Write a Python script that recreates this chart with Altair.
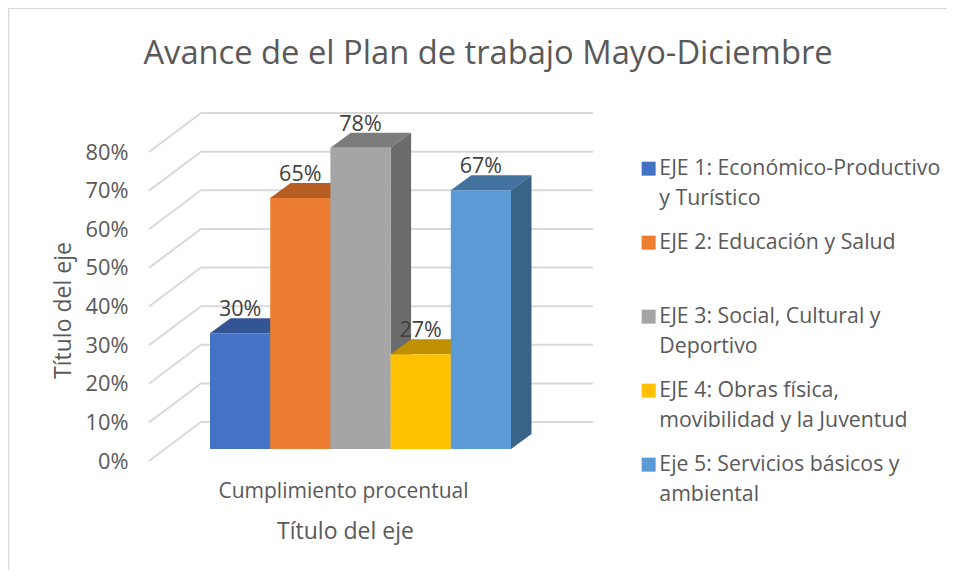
import altair as alt
import pandas as pd

TITLE = "Avance de el Plan de trabajo Mayo-Diciembre"
SERIES = ["EJE 1: Económico-Productivo|y Turístico", "EJE 2: Educación y Salud",
          "EJE 3: Social, Cultural y|Deportivo", "EJE 4: Obras física,|movibilidad y la Juventud",
          "Eje 5: Servicios básicos y|ambiental"]
HEIGHTS = [30, 65, 78, 24.5, 67]
LABELS = ["30%", "65%", "78%", "27%", "67%"]
FRONT = ["#4472c4", "#ed7d31", "#a5a5a5", "#ffc000", "#5b9bd5"]
TOP = ["#335593", "#b55d22", "#7c7c7c", "#bf9000", "#44729f"]
SIDE = ["#2a4679", "#8f4b1d", "#6b6b6b", "#997300", "#3a6487"]
TICKS = [0, 10, 20, 30, 40, 50, 60, 70, 80]

PX = 3.8625            # pixels per percentage point
W, H = 444, 348
GRID_DX, GRID_DY = 52, 39 / PX
BAR_X0, BAR_W = 61, 60.2
BAR_BASE = 12 / PX
BAR_DX, BAR_DY = 20.5, 15 / PX

xs = alt.Scale(domain=[0, W], nice=False, zero=False)
ys = alt.Scale(domain=[0, H / PX], nice=False, zero=False)
x_axis = alt.Axis(
    values=[194], labelExpr="'Cumplimiento procentual'", domain=False, ticks=False, grid=False,
    labelFontSize=21, labelColor="#595959", labelPadding=19, labelFont="Open Sans", labelLimit=500,
    labelBound=False, labelFlush=False, labelOverlap=False,
    titleFontSize=23, titleColor="#595959", titleFont="Open Sans", titleFontWeight="normal",
    titleX=196, titleY=77, titleBaseline="alphabetic")
y_axis = alt.Axis(
    values=TICKS, labelExpr="datum.value + '%'", domain=False, ticks=False, grid=False,
    labelFontSize=21.8, labelColor="#595959", labelPadding=21, labelFont="Open Sans",
    titleFontSize=23, titleColor="#595959", titleFont="Open Sans", titleFontWeight="normal",
    titleX=-74, titleY=197)
X = lambda f="x": alt.X(f"{f}:Q", scale=xs, axis=x_axis, title="Título del eje")
Y = lambda f="y": alt.Y(f"{f}:Q", scale=ys, axis=y_axis, title="Título del eje")

# outer frame
frame = [
    alt.Chart(pd.DataFrame({"a": [0]})).mark_rule(color="#d9d9d9", strokeWidth=1.5).encode(
        x=alt.value(-140.5), y=alt.value(-105), y2=alt.value(H + 109)),
    alt.Chart(pd.DataFrame({"a": [0]})).mark_rule(color="#d9d9d9", strokeWidth=1).encode(
        y=alt.value(-104.5), x=alt.value(-141), x2=alt.value(W + 354)),
]

# walls: diagonal + horizontal gridlines
grid_rows = []
for t in TICKS:
    grid_rows += [{"t": t, "o": 0, "x": 0, "y": t},
                  {"t": t, "o": 1, "x": GRID_DX, "y": t + GRID_DY},
                  {"t": t, "o": 2, "x": W, "y": t + GRID_DY}]
grid = alt.Chart(pd.DataFrame(grid_rows)).mark_line(color="#d9d9d9", strokeWidth=2).encode(
    x=X(), y=Y(), detail="t:N", order="o:Q")

layers = frame + [grid]
color_scale = alt.Scale(domain=SERIES, range=FRONT)
legend = alt.Legend(
    title=None, orient="none", legendX=489, legendY=45, symbolType="square", symbolSize=196,
    symbolStrokeWidth=0, labelFontSize=21.3, labelColor="#595959", labelFont="Open Sans", labelLimit=400,
    labelOffset=0, rowPadding=22, padding=0,
    labelExpr="[split(datum.label,'|')[0], split(datum.label,'|')[1] || '']",
)

for i, s in enumerate(SERIES):
    x0 = BAR_X0 + i * BAR_W
    x1 = x0 + BAR_W
    y0 = BAR_BASE
    y1 = BAR_BASE + HEIGHTS[i]
    top = pd.DataFrame({
        "x": [x0, x0 + BAR_DX, x1, x1 + BAR_DX],
        "y": [y1, y1, y1, y1 + BAR_DY],
        "y2": [y1, y1 + BAR_DY, y1 + BAR_DY, y1 + BAR_DY]})
    side = pd.DataFrame({
        "x": [x1, x1 + BAR_DX],
        "y": [y0, y0 + BAR_DY],
        "y2": [y1, y1 + BAR_DY]})
    front = pd.DataFrame({"x": [x0], "x2": [x1], "y": [y0], "y2": [y1], "serie": [s]})
    layers.append(alt.Chart(top).mark_area(color=TOP[i]).encode(x=X(), y=Y(), y2="y2:Q"))
    layers.append(alt.Chart(side).mark_area(color=SIDE[i]).encode(x=X(), y=Y(), y2="y2:Q"))
    layers.append(alt.Chart(front).mark_rect().encode(
        x=X(), x2="x2:Q", y=Y(), y2="y2:Q",
        color=alt.Color("serie:N", scale=color_scale, legend=legend, sort=None)))

label_df = pd.DataFrame({
    "x": [BAR_X0 + (i + 0.5) * BAR_W for i in range(5)],
    "y": [BAR_BASE + h for h in HEIGHTS],
    "t": LABELS})
layers.append(alt.Chart(label_df).mark_text(
    fontSize=21.5, color="#404040", font="Open Sans", baseline="alphabetic", dy=-17).encode(
    x=X(), y=Y(), text="t:N"))

chart = alt.layer(*layers).properties(
    width=W, height=H,
    padding={"left": 141, "top": 105, "right": 354, "bottom": 109},
    autosize=alt.AutoSizeParams(type="none"),
    title=alt.TitleParams(TITLE, fontSize=32.7, font="Open Sans", fontWeight="normal", color="#595959",
                          anchor="middle", dx=117, offset=-89, baseline="alphabetic"),
).configure(
    style={"guide-label": {"lineHeight": 30}}
).configure_view(stroke=None)

chart.save("out.html", embed_options={"renderer": "svg", "actions": False})
